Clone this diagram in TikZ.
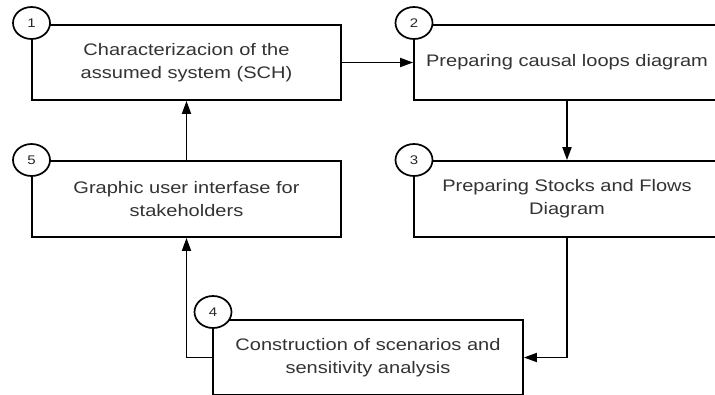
\documentclass[tikz,border=0pt]{standalone}
\usepackage{fontspec}
\setmainfont[FakeStretch=1.2]{Liberation Sans}
\usetikzlibrary{shapes.geometric,arrows.meta}
\begin{document}
\begin{tikzpicture}[x=1pt,y=-1pt,
  stepbox/.style={draw=black,line width=1.8pt,fill=white,rectangle,inner sep=0pt,
    align=center,text=black!80,font=\fontsize{16.7}{23}\selectfont},
  numcirc/.style={draw=black,line width=1.7pt,fill=white,ellipse,inner sep=0pt,
    minimum width=37pt,minimum height=32pt,text=black!85,font=\fontsize{12.5}{14}\selectfont},
  arr/.style={line width=1.8pt,-{Triangle[length=13pt,width=9pt]}}]
\useasboundingbox (0,0) rectangle (715,394);
\clip (0,0) rectangle (715,394);
\fill[white] (0,0) rectangle (715,394);
\node[stepbox,minimum width=309pt,minimum height=75pt] (b1) at (186.5,62.5)
  {Characterizacion of the\\assumed system (SCH)};
\node[stepbox,minimum width=306pt,minimum height=75pt] (b2) at (567,62.5)
  {Preparing causal loops diagram};
\node[stepbox,minimum width=306pt,minimum height=76pt] (b3) at (567,199)
  {Preparing Stocks and Flows\\Diagram};
\node[stepbox,minimum width=309pt,minimum height=76pt] (b5) at (186.5,199)
  {Graphic user interfase for\\stakeholders};
\node[stepbox,minimum width=310pt,minimum height=75pt] (b4) at (368,357.5)
  {Construction of scenarios and\\sensitivity analysis};
\node[numcirc] (c1) at (31.5,23) {1};
\node[numcirc] (c2) at (414,23) {2};
\node[numcirc] (c3) at (414,160) {3};
\node[numcirc] (c5) at (31.5,160) {5};
\node[numcirc] (c4) at (213,312) {4};
\draw[arr] (b1.east) -- (b2.west);
\draw[arr] (b2.south) -- (b3.north);
\draw[arr] (b3.south) |- (b4.east);
\draw[arr] (b4.west) -| (b5.south);
\draw[arr] (b5.north) -- (b1.south);
\end{tikzpicture}
\end{document}
